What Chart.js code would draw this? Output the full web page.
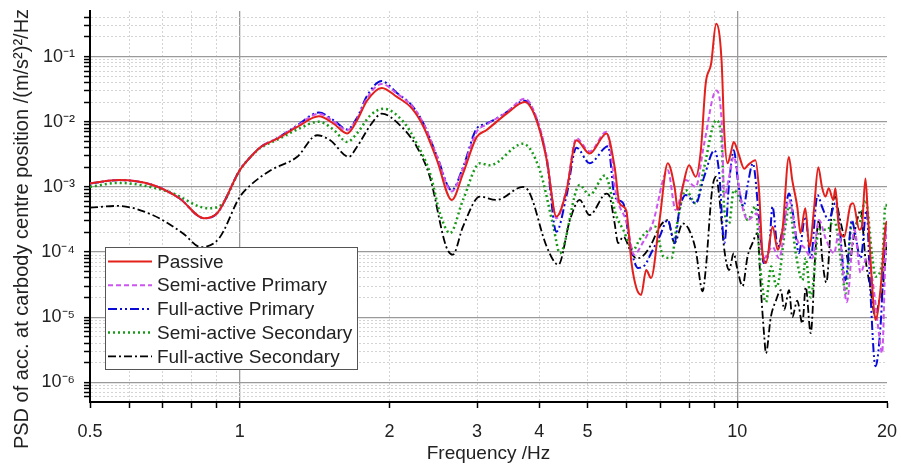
<!DOCTYPE html>
<html>
<head>
<meta charset="utf-8">
<script src="https://cdn.jsdelivr.net/npm/chart.js@4.4.1/dist/chart.umd.min.js"></script>
<style>
  html, body { margin: 0; padding: 0; background: #fff; }
  #wrap { width: 901px; height: 467px; }
</style>
</head>
<body>
<div id="wrap"><canvas id="psd" width="901" height="467"></canvas></div>
<script>
// ─── Data ──────────────────────────────────────────────────────

const X_TICKS = [0.5, 0.6, 0.7, 0.8, 0.9, 1, 2, 3, 4, 5, 6, 7, 8, 9, 10, 20];
const X_LABELS = [0.5, 1, 2, 3, 4, 5, 10, 20];
const Y_DECADES = [1e-7, 1e-6, 1e-5, 1e-4, 1e-3, 1e-2, 1e-1];
const Y_TITLE = 'PSD of acc. at carbody centre position /(m/s\u00B2)\u00B2/Hz';

const passiveHz = [0.5, 0.572, 0.668, 0.756, 0.848, 0.902, 1.0, 1.052, 1.102, 1.19, 1.305, 1.442, 1.545, 1.643, 1.721, 1.802, 1.93, 2.07, 2.218, 2.342, 2.49, 2.668, 2.81, 2.993, 3.13, 3.44, 3.74, 3.95, 4.14, 4.33, 4.54, 4.75, 5.05, 5.46, 5.67, 5.8, 5.98, 6.13, 6.27, 6.41, 6.56, 6.71, 6.98, 7.25, 7.48, 7.6, 7.77, 8.0, 8.25, 8.45, 8.64, 8.86, 9.07, 9.3, 9.42, 9.56, 9.7, 9.84, 10.05, 10.33, 10.5, 10.88, 11.06, 11.24, 11.42, 11.78, 12.06, 12.33, 12.7, 12.9, 13.2, 13.4, 13.7, 13.97, 14.26, 14.55, 14.8, 15.04, 15.27, 15.6, 15.75, 16.0, 16.4, 16.9, 17.1, 17.6, 17.8, 18.1, 18.3, 18.8, 18.96, 19.4, 19.86, 20];
const passivePsd = [1.13e-3, 1.27e-3, 1.07e-3, 6.7e-4, 3.3e-4, 4.0e-4, 1.8e-3, 2.9e-3, 4.1e-3, 5.5e-3, 8.3e-3, 1.21e-2, 9.3e-3, 6.6e-3, 1.05e-2, 2.1e-2, 3.3e-2, 2.4e-2, 1.6e-2, 8.3e-3, 2.6e-3, 6.3e-4, 1.6e-3, 5.8e-3, 7.4e-3, 1.33e-2, 2.0e-2, 1.05e-2, 2.6e-3, 3.5e-4, 8.9e-4, 5.2e-3, 3.25e-3, 6.6e-3, 2.0e-3, 5.6e-4, 4.4e-4, 6.8e-5, 2.8e-5, 2.2e-5, 5.3e-5, 4.0e-5, 3.1e-4, 2.3e-3, 1.0e-3, 4.4e-4, 1.0e-3, 2.15e-3, 1.43e-3, 3.65e-3, 3.8e-2, 7.7e-2, 0.32, 8.7e-2, 6.6e-3, 2.3e-3, 3.25e-3, 4.9e-3, 3.3e-3, 1.9e-3, 2.15e-3, 2.57e-3, 8.9e-4, 9.6e-5, 6.8e-5, 2.45e-4, 1.08e-4, 2.2e-4, 2.88e-3, 1.27e-3, 5.0e-4, 1.95e-4, 4.7e-4, 1.2e-4, 4.4e-4, 2.0e-3, 1.0e-3, 7.1e-4, 9.5e-4, 6.3e-4, 9.5e-4, 2.45e-4, 1.72e-4, 5.3e-4, 5.6e-4, 2.2e-4, 2.45e-4, 1.35e-3, 3.9e-4, 1.47e-5, 9.1e-6, 2.6e-5, 2.45e-4, 3.0e-4];

const semiPrimaryHz = [0.5, 0.572, 0.668, 0.756, 0.848, 0.902, 1.0, 1.052, 1.102, 1.19, 1.305, 1.442, 1.545, 1.643, 1.721, 1.802, 1.93, 2.07, 2.218, 2.342, 2.49, 2.668, 2.81, 2.993, 3.13, 3.44, 3.74, 3.95, 4.14, 4.33, 4.54, 4.75, 5.05, 5.46, 5.72, 6.0, 6.2, 6.45, 6.76, 7.25, 7.52, 7.88, 8.25, 8.58, 9.07, 9.3, 9.42, 9.63, 9.84, 10.2, 10.5, 10.95, 11.3, 11.77, 12.14, 12.7, 13.2, 13.6, 14.16, 14.6, 15.06, 15.65, 16.0, 16.6, 17.2, 17.7, 18.2, 18.7, 19.3, 19.55, 19.86, 20];
const semiPrimaryPsd = [1.13e-3, 1.27e-3, 1.07e-3, 6.7e-4, 3.3e-4, 4.0e-4, 1.8e-3, 2.9e-3, 4.1e-3, 5.6e-3, 8.6e-3, 1.33e-2, 1.0e-2, 7.4e-3, 1.1e-2, 2.3e-2, 3.8e-2, 2.7e-2, 1.75e-2, 9.3e-3, 3.0e-3, 8.5e-4, 1.9e-3, 7.0e-3, 9.0e-3, 1.4e-2, 2.25e-2, 1.15e-2, 2.9e-3, 3.3e-4, 9.5e-4, 5.6e-3, 3.5e-3, 7.0e-3, 7.1e-4, 2.8e-4, 9.1e-5, 1.37e-4, 2.75e-4, 1.8e-3, 4.4e-4, 1.27e-3, 1.0e-3, 4.6e-3, 3.0e-2, 1.05e-2, 7.1e-4, 1.43e-3, 2.9e-3, 5.6e-4, 3.1e-4, 3.9e-4, 8.0e-5, 1.2e-4, 8.0e-5, 6.3e-4, 1.54e-4, 1.2e-4, 8.0e-5, 3.1e-4, 1.6e-4, 9.6e-5, 1.95e-4, 1.7e-5, 2.2e-4, 4.8e-5, 8.0e-5, 3.7e-5, 5.1e-6, 2.8e-6, 9.6e-5, 3.0e-4];

const fullPrimaryHz = [0.5, 0.572, 0.668, 0.756, 0.848, 0.902, 1.0, 1.052, 1.102, 1.19, 1.305, 1.442, 1.545, 1.643, 1.721, 1.802, 1.93, 2.07, 2.218, 2.342, 2.49, 2.668, 2.81, 2.993, 3.13, 3.44, 3.74, 3.95, 4.14, 4.33, 4.54, 4.75, 5.05, 5.5, 5.67, 5.9, 6.08, 6.32, 6.53, 6.71, 6.98, 7.25, 7.48, 7.65, 7.88, 8.25, 8.58, 9.0, 9.2, 9.42, 9.63, 9.84, 10.05, 10.3, 10.5, 10.75, 11.07, 11.3, 11.6, 11.77, 12.06, 12.33, 12.71, 13.0, 13.3, 13.7, 14.05, 14.5, 14.8, 15.27, 15.75, 16.0, 16.5, 17.0, 17.2, 17.7, 18.2, 18.5, 18.96, 19.4, 19.86, 20];
const fullPrimaryPsd = [1.13e-3, 1.27e-3, 1.07e-3, 6.7e-4, 3.3e-4, 4.0e-4, 1.8e-3, 2.9e-3, 4.1e-3, 5.6e-3, 8.8e-3, 1.38e-2, 1.05e-2, 7.6e-3, 1.15e-2, 2.5e-2, 4.2e-2, 2.75e-2, 1.78e-2, 9.3e-3, 3.0e-3, 8.9e-4, 2.0e-3, 7.8e-3, 9.3e-3, 1.4e-2, 2.1e-2, 1.1e-2, 2.6e-3, 2.05e-4, 7.5e-4, 4.0e-3, 2.3e-3, 4.2e-3, 7.1e-4, 5.6e-4, 1.37e-4, 5.7e-5, 6.4e-5, 9.6e-5, 1.72e-4, 3.1e-4, 1.37e-4, 4.4e-4, 7.5e-4, 5.6e-4, 1.43e-3, 3.65e-3, 1.6e-3, 1.37e-4, 1.13e-3, 3.65e-3, 1.1e-3, 5.0e-4, 1.1e-3, 2.3e-3, 3.1e-4, 6.8e-5, 1.2e-4, 5.0e-4, 1.2e-4, 2.2e-4, 7.9e-4, 3.1e-4, 9.6e-5, 3.5e-4, 8.0e-5, 7.5e-4, 5.0e-4, 3.1e-4, 5.6e-4, 3.1e-4, 3.7e-5, 3.1e-4, 2.2e-4, 8.0e-5, 4.4e-4, 2.9e-5, 1.77e-6, 6.9e-6, 2.2e-4, 3.0e-4];

const semiSecondaryHz = [0.5, 0.57, 0.72, 0.866, 0.916, 1.0, 1.052, 1.102, 1.19, 1.305, 1.442, 1.545, 1.643, 1.72, 1.83, 1.946, 2.135, 2.27, 2.414, 2.527, 2.646, 2.81, 3.04, 3.18, 3.71, 4.01, 4.27, 4.4, 4.82, 5.05, 5.42, 5.72, 5.9, 6.18, 6.36, 6.6, 6.84, 7.1, 7.38, 7.55, 7.88, 8.25, 8.58, 9.07, 9.3, 9.42, 9.63, 9.84, 10.2, 10.5, 10.88, 11.15, 11.42, 11.7, 12.0, 12.52, 12.71, 13.11, 13.52, 13.73, 14.05, 14.6, 15.17, 15.65, 16.25, 16.5, 17.0, 17.56, 18.1, 18.7, 18.96, 19.55, 19.86, 20];
const semiSecondaryPsd = [1.0e-3, 1.15e-3, 8.4e-4, 4.7e-4, 5.2e-4, 1.8e-3, 2.9e-3, 4.0e-3, 5.3e-3, 7.6e-3, 1.0e-2, 7.5e-3, 4.9e-3, 6.6e-3, 1.25e-2, 1.58e-2, 9.9e-3, 4.6e-3, 1.6e-3, 3.9e-4, 1.95e-4, 6.3e-4, 2.3e-3, 2.15e-3, 4.6e-3, 1.8e-3, 2.45e-4, 9.6e-5, 1.07e-3, 7.5e-4, 1.5e-3, 3.5e-4, 2.2e-4, 1.08e-4, 1.54e-4, 2.1e-4, 2.45e-4, 8.6e-5, 8.1e-5, 2.45e-4, 8.9e-4, 5.6e-4, 2.0e-3, 1.05e-2, 5.2e-3, 4.4e-4, 2.75e-4, 8.9e-4, 5.6e-4, 3.1e-4, 5.0e-4, 4.8e-5, 1.7e-5, 6.0e-5, 2.9e-5, 2.75e-4, 5.0e-4, 9.6e-5, 3.7e-5, 8.0e-5, 2.0e-5, 2.2e-4, 2.2e-4, 3.1e-4, 5.3e-5, 2.3e-5, 2.75e-4, 2.75e-4, 6.3e-4, 8.0e-5, 4.2e-5, 6.8e-5, 5.3e-4, 5.0e-4];

const fullSecondaryHz = [0.5, 0.569, 0.668, 0.768, 0.835, 0.909, 1.0, 1.052, 1.154, 1.305, 1.43, 1.52, 1.656, 1.72, 1.83, 1.93, 2.1, 2.27, 2.41, 2.6, 2.68, 2.81, 3.04, 3.28, 3.71, 3.83, 4.14, 4.37, 4.61, 4.82, 5.05, 5.46, 5.54, 5.67, 5.76, 5.9, 6.13, 6.27, 6.45, 6.71, 6.98, 7.25, 7.48, 7.77, 8.0, 8.25, 8.52, 8.64, 8.9, 9.07, 9.2, 9.42, 9.63, 9.84, 9.98, 10.25, 10.49, 10.73, 10.98, 11.15, 11.33, 11.42, 11.68, 11.96, 12.24, 12.43, 12.71, 12.9, 13.2, 13.52, 13.73, 14.05, 14.38, 14.6, 14.82, 15.1, 15.52, 15.75, 16.0, 16.38, 16.77, 17.2, 17.42, 17.7, 18.1, 18.5, 18.96, 19.3, 19.55, 19.86, 20];
const fullSecondaryPsd = [4.8e-4, 5.1e-4, 3.7e-4, 1.95e-4, 1.19e-4, 1.63e-4, 7.0e-4, 1.07e-3, 1.8e-3, 2.9e-3, 6.2e-3, 5.2e-3, 2.9e-3, 4.1e-3, 8.8e-3, 1.33e-2, 8.8e-3, 4.1e-3, 1.43e-3, 1.21e-4, 9.1e-5, 2.45e-4, 7.1e-4, 6.3e-4, 1.0e-3, 7.9e-4, 1.21e-4, 6.4e-5, 3.1e-4, 6.3e-4, 3.7e-4, 7.9e-4, 7.1e-4, 2.75e-4, 1.37e-4, 1.72e-4, 9.6e-5, 8.0e-5, 8.6e-5, 1.3e-4, 2.45e-4, 3.1e-4, 1.37e-4, 2.75e-4, 2.2e-4, 1.08e-4, 2.5e-5, 5.3e-5, 8.9e-4, 1.43e-3, 7.1e-4, 1.08e-4, 5.3e-5, 9.6e-5, 6.0e-5, 3.0e-5, 8.6e-5, 1.37e-4, 1.95e-4, 2.9e-5, 5.1e-6, 2.8e-6, 1.0e-5, 1.8e-5, 2.6e-5, 1.3e-5, 2.6e-5, 1.0e-5, 1.8e-5, 8.0e-6, 2.9e-5, 5.7e-6, 1.2e-4, 3.1e-4, 8.0e-5, 3.4e-5, 5.0e-4, 7.1e-4, 3.9e-4, 1.72e-4, 6.8e-5, 1.95e-4, 3.1e-4, 4.4e-4, 8.0e-5, 2.9e-5, 1.0e-5, 1.8e-5, 2.3e-5, 8.0e-5, 1.5e-4];

// ─── Helpers ───────────────────────────────────────────────────

const FONT = "'Liberation Sans', Arial, sans-serif";
const SUP = { '-': '\u207B', 0: '\u2070', 1: '\u00B9', 2: '\u00B2', 3: '\u00B3', 4: '\u2074', 5: '\u2075', 6: '\u2076', 7: '\u2077', 8: '\u2078', 9: '\u2079' };

const points = (hz, psd) => hz.map((f, i) => ({ x: f, y: psd[i] }));
const isDecade = v => Math.abs(Math.log10(v) - Math.round(Math.log10(v))) < 1e-6;
const decadeLabel = v => '10' + String(Math.round(Math.log10(v))).split('').map(c => SUP[c]).join('');
const isMajorHz = v => v === 1 || v === 10;

function series(label, hz, psd, color, dash, width) {
  return {
    label,
    data: points(hz, psd),
    borderColor: color,
    backgroundColor: color,
    borderDash: dash,
    borderWidth: width,
    pointRadius: 0,
    cubicInterpolationMode: 'monotone',
    fill: false,
  };
}

// legend box drawn inside the plot, over the curves; y title drawn by hand
// so it can sit lower than the scale box centre, as in the original
const overlays = {
  id: 'overlays',
  afterDraw(chart) {
    const { ctx, chartArea } = chart;
    const left = chartArea.left + 15, top = chartArea.top + 236;
    const w = 252, h = 122, row = 23.7;
    ctx.save();
    ctx.fillStyle = '#fff';
    ctx.fillRect(left, top, w, h);
    ctx.strokeStyle = '#555';
    ctx.lineWidth = 1;
    ctx.strokeRect(left + 0.5, top + 0.5, w, h);
    ctx.font = `19px ${FONT}`;
    ctx.textBaseline = 'middle';
    chart.data.datasets.forEach((ds, i) => {
      const y = top + 14.5 + i * row;
      ctx.beginPath();
      ctx.setLineDash(ds.borderDash || []);
      ctx.strokeStyle = ds.borderColor;
      ctx.lineWidth = ds.borderWidth;
      ctx.moveTo(left + 3, y);
      ctx.lineTo(left + 47, y);
      ctx.stroke();
      ctx.setLineDash([]);
      ctx.fillStyle = '#222';
      ctx.fillText(ds.label, left + 52, y + 1);
    });

    ctx.translate(22, 229);
    ctx.rotate(-Math.PI / 2);
    ctx.textAlign = 'center';
    ctx.font = `20px ${FONT}`;
    ctx.fillText(Y_TITLE, 0, 0);
    ctx.restore();
  },
};

// ─── Chart ─────────────────────────────────────────────────────

function init() {
  const yTicks = [];
  Y_DECADES.forEach(d => {
    for (let m = 1; m <= 9; m++) yTicks.push(m * d);
  });

  new Chart(document.getElementById('psd'), {
    type: 'line',
    data: {
      datasets: [
        series('Passive', passiveHz, passivePsd, '#e3201c', [], 2),
        series('Semi-active Primary', semiPrimaryHz, semiPrimaryPsd, '#cc55ee', [5, 3], 2),
        series('Full-active Primary', fullPrimaryHz, fullPrimaryPsd, '#0a0ad8', [9, 3, 2, 3, 2, 3], 2),
        series('Semi-active Secondary', semiSecondaryHz, semiSecondaryPsd, '#189a18', [2, 3], 2.5),
        series('Full-active Secondary', fullSecondaryHz, fullSecondaryPsd, '#000000', [8, 3, 2, 3], 1.8),
      ],
    },
    options: {
      responsive: false,
      animation: false,
      layout: { padding: { top: 11, right: 14, left: 0, bottom: 0 } },
      plugins: { legend: { display: false }, tooltip: { enabled: false } },
      scales: {
        x: {
          type: 'logarithmic',
          min: 0.5,
          max: 20,
          afterBuildTicks: s => { s.ticks = X_TICKS.map(v => ({ value: v })); },
          afterFit: s => { s.height = 65; s.paddingLeft = 0; s.paddingRight = 0; },
          ticks: {
            autoSkip: false,
            maxRotation: 0,
            padding: 13,
            color: '#222',
            font: { family: FONT, size: 18 },
            callback: v => (X_LABELS.includes(v) ? String(v) : ''),
          },
          grid: {
            color: c => (c.tick && isMajorHz(c.tick.value)) ? '#9a9a9a'
              : (c.tick && (c.tick.value === 0.5 || c.tick.value === 20)) ? 'rgba(0,0,0,0)' : '#d4d4d4',
            lineWidth: c => (c.tick && isMajorHz(c.tick.value)) ? 1.3 : 1,
            tickColor: '#000',
            tickLength: 6,
            tickWidth: 1.5,
            tickBorderDash: [],
          },
          border: {
            display: true,
            color: '#000',
            width: 2,
            dash: c => (c.tick && !isMajorHz(c.tick.value)) ? [2, 2] : [],
          },
          title: {
            display: true,
            text: 'Frequency /Hz',
            color: '#222',
            font: { family: FONT, size: 19 },
            padding: { top: 0, bottom: 2 },
          },
        },
        y: {
          type: 'logarithmic',
          min: 5e-7,
          max: 0.5,
          afterBuildTicks: s => { s.ticks = yTicks.filter(v => v > 5e-7 && v < 0.5).map(v => ({ value: v })); },
          afterFit: s => { s.width = 90; s.paddingTop = 0; s.paddingBottom = 0; },
          ticks: {
            autoSkip: false,
            padding: 9,
            color: '#222',
            font: { family: FONT, size: 18 },
            callback: v => (isDecade(v) ? decadeLabel(v) : ''),
          },
          grid: {
            color: c => (c.tick && isDecade(c.tick.value)) ? '#9a9a9a' : '#d4d4d4',
            lineWidth: c => (c.tick && isDecade(c.tick.value)) ? 1.3 : 1,
            tickColor: '#000',
            tickLength: 6,
            tickWidth: 1.5,
            tickBorderDash: [],
          },
          border: {
            display: true,
            color: '#000',
            width: 2,
            dash: c => (c.tick && !isDecade(c.tick.value)) ? [2, 2] : [],
          },
        },
      },
    },
    plugins: [overlays],
  });
}

document.addEventListener('DOMContentLoaded', init);
</script>
</body>
</html>
